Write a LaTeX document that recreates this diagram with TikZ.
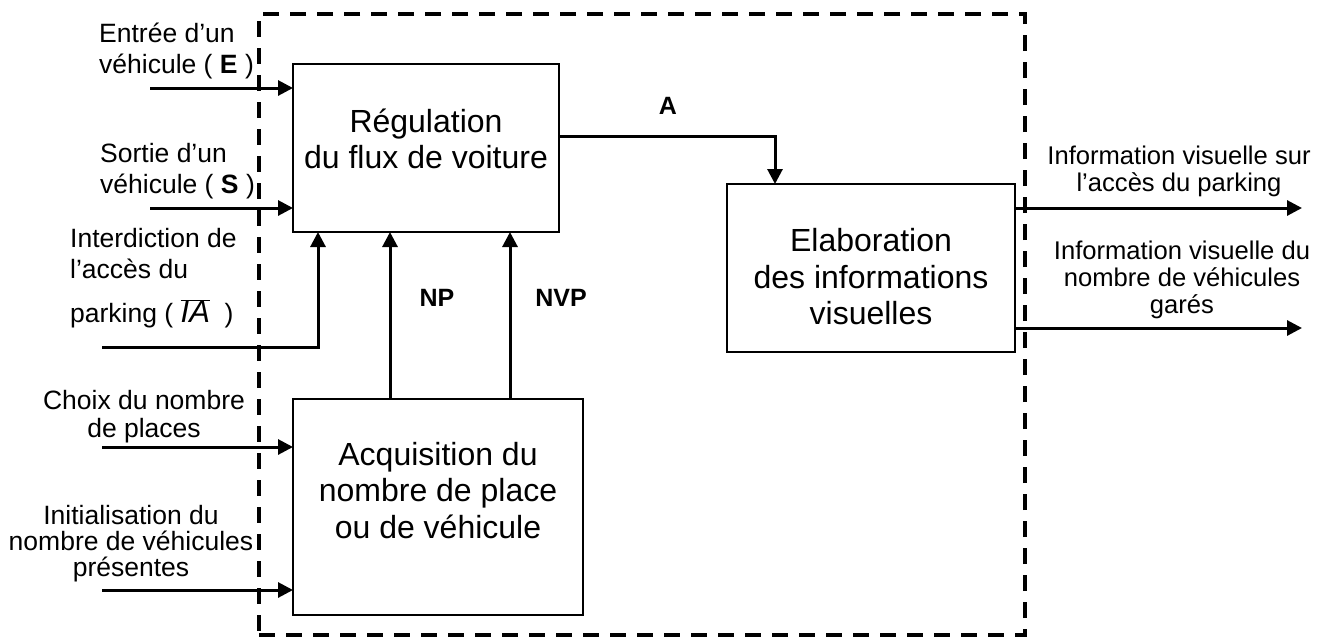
\documentclass[tikz,border=0pt]{standalone}
\usepackage{fontspec}
\setmainfont{Liberation Sans}
\usetikzlibrary{arrows.meta,calc}
\begin{document}
\begin{tikzpicture}[x=1pt,y=-1pt,
  frame/.style={draw,line width=4.5pt,dash pattern=on 16pt off 11pt,inner sep=0pt,outer sep=0pt},
  box/.style={draw,line width=2.5pt,inner sep=0pt,outer sep=0pt},
  flow/.style={line width=3pt,-{Triangle[length=15pt,width=15pt]}},
  boxtext/.style={anchor=north,align=center,inner sep=0pt,font=\fontsize{32}{36.5}\selectfont},
  lbl/.style={inner sep=0pt,anchor=north,align=center,font=\fontsize{26.5}{31}\selectfont},
  outlbl/.style={inner sep=0pt,anchor=north,align=center,font=\fontsize{25.6}{27}\selectfont},
  sig/.style={inner sep=0pt,font=\bfseries\fontsize{25}{25}\selectfont}
]
\useasboundingbox (0,0) rectangle (1333,641);

% system frame
\node[frame,minimum width=766,minimum height=621] (sys) at (642,324.5) {};

% blocks
\node[box,minimum width=266,minimum height=168] (reg) at (426,148) {};
\node[box,minimum width=288,minimum height=168] (elab) at (871,268) {};
\node[box,minimum width=290,minimum height=216] (acq) at (438,507) {};

\node[boxtext] (tReg) at (426,108.6) {Régulation\\du flux de voiture};
\node[boxtext] (tAcq) at (438,442) {Acquisition du\\nombre de place\\ou de véhicule};
\node[boxtext] (tElab) at (871,228.6) {Elaboration\\des informations\\visuelles};

% free ends
\coordinate (eIn) at (150,88);
\coordinate (sIn) at (150,208);
\coordinate (iaIn) at (102,347);
\coordinate (cIn) at (102,447);
\coordinate (iIn) at (102,590);
\coordinate (o1) at (1302,208);
\coordinate (o2) at (1302,328);

% inputs
\draw[flow] (eIn) -- (eIn -| reg.west);
\draw[flow] (sIn) -- (sIn -| reg.west);
\draw[flow] (iaIn) -| ($(reg.south west)+(25,0)$);
\draw[flow] (cIn) -- (cIn -| acq.west);
\draw[flow] (iIn) -- (iIn -| acq.west);

% internal
\draw[flow] ($(acq.north west)+(97,0)$) -- ($(reg.south west)+(97,0)$);
\draw[flow] ($(acq.north west)+(217,0)$) -- ($(reg.south west)+(217,0)$);
\draw[flow] ($(reg.north east)+(0,72)$) -| ($(elab.north west)+(48,0)$);

% outputs
\draw[flow] (elab.east |- o1) -- (o1);
\draw[flow] (elab.east |- o2) -- (o2);

% signal labels
\node[sig] (lA) at (668,106) {A};
\node[sig] (lNP) at (437,297.5) {NP};
\node[sig] (lNVP) at (561,297.5) {NVP};

% input labels
\node[lbl,anchor=north west,align=left] (lE) at (99,22.4) {Entrée d’un\\véhicule ( \textbf{E} )};
\node[lbl,anchor=north west,align=left] (lS) at (100,143.5) {Sortie d’un\\véhicule ( \textbf{S} )};
\node[lbl,anchor=north west,align=left] (lIA) at (70,228.5) {Interdiction de\\l’accès du\\[13pt]parking ( $\overline{\hbox{\fontsize{31}{31}\selectfont\itshape IA}}$\ \ )};
\node[lbl,font=\fontsize{26.5}{28}\selectfont] (lC) at (144,390.3) {Choix du nombre\\de places};
\node[lbl,font=\fontsize{26.5}{26}\selectfont] (lI) at (131,505.5) {Initialisation du\\nombre de véhicules\\présentes};

% output labels
\node[outlbl] (lO1) at (1179,146) {Information visuelle sur\\l’accès du parking};
\node[outlbl] (lO2) at (1182,241) {Information visuelle du\\nombre de véhicules\\garés};
\end{tikzpicture}
\end{document}
